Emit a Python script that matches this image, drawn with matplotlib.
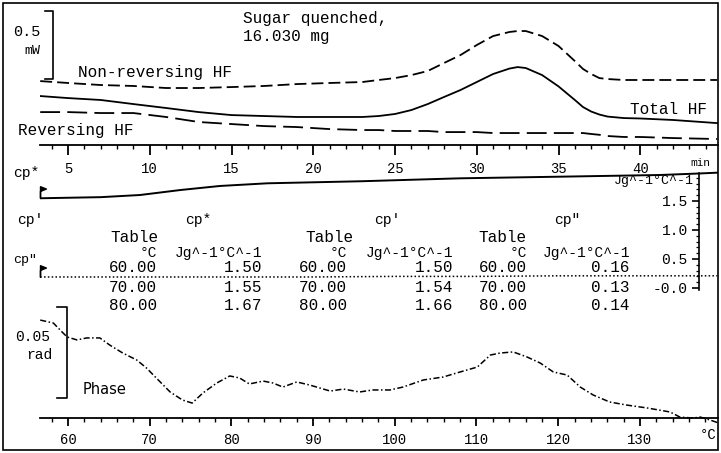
import numpy as np
import matplotlib
matplotlib.use('Agg')
import matplotlib.pyplot as plt
from matplotlib.ticker import MultipleLocator, FixedLocator
from matplotlib.patches import Rectangle

# heat flow signals (mW) against time (min)
hf_time = [3.3, 5, 7, 9, 11, 13, 15, 17, 19, 21, 23, 24, 25, 26, 27, 28, 29, 30,
           31, 32, 32.5, 33, 34, 35, 36, 36.5, 37, 37.5, 38, 39, 40, 42, 44.7]
nonrev_hf = [0.485, 0.471, 0.456, 0.449, 0.434, 0.434, 0.441, 0.449, 0.463, 0.471,
             0.478, 0.493, 0.507, 0.529, 0.559, 0.618, 0.676, 0.750, 0.816, 0.846,
             0.853, 0.853, 0.816, 0.743, 0.632, 0.574, 0.537, 0.507, 0.500, 0.493,
             0.493, 0.493, 0.493]
total_hf = [0.375, 0.360, 0.346, 0.316, 0.287, 0.257, 0.235, 0.228, 0.221, 0.221,
            0.221, 0.228, 0.243, 0.272, 0.316, 0.368, 0.419, 0.478, 0.537, 0.577,
            0.588, 0.581, 0.529, 0.446, 0.346, 0.294, 0.261, 0.239, 0.224, 0.213,
            0.210, 0.199, 0.176]
rev_hf = [0.257, 0.257, 0.250, 0.250, 0.221, 0.184, 0.169, 0.154, 0.147, 0.132,
          0.125, 0.125, 0.118, 0.118, 0.118, 0.110, 0.110, 0.110, 0.103, 0.103,
          0.103, 0.103, 0.103, 0.103, 0.103, 0.103, 0.096, 0.090, 0.081, 0.074,
          0.074, 0.066, 0.059]

# heat capacity (J/g/°C) against time (min)
cp_time = [3.3, 7.0, 9.4, 11.9, 14.3, 17.2, 22.9, 29.0, 35.1, 41.2, 43.6, 44.7]
cp_star = [1.547, 1.566, 1.603, 1.690, 1.759, 1.805, 1.840, 1.891, 1.919, 1.948, 1.974, 1.988]
cpdd_time = [3.3, 5, 10, 15, 20, 25, 30, 35, 40, 44.7]
cp_dprime = [0.19, 0.19, 0.19, 0.19, 0.19, 0.20, 0.20, 0.21, 0.21, 0.21]

# phase (rad) against temperature (°C)
phase_temp = [56.6, 58.2, 59.4, 59.9, 61.1, 62.3, 63.9, 65.1, 66.7, 68.4, 69.6, 70.8,
              72.5, 74.0, 75.2, 76.5, 78.2, 79.8, 81.0, 82.2, 83.9, 85.1, 86.3, 88.0,
              89.6, 92.1, 93.7, 95.7, 97.3, 99.4, 101.0, 103.5, 105.9, 108.0, 110.1,
              111.7, 112.9, 114.5, 116.2, 117.8, 119.4, 121.1, 122.7, 124.3, 126.3,
              128.4, 130.9, 133.7, 134.9, 136.5, 137.4, 138.6, 139.6]
phase_rad = [0.0538, 0.0522, 0.0467, 0.0445, 0.0429, 0.0440, 0.0440, 0.0401, 0.0357,
             0.0319, 0.0275, 0.0220, 0.0143, 0.0099, 0.0082, 0.0137, 0.0192, 0.0231,
             0.0220, 0.0187, 0.0203, 0.0192, 0.0170, 0.0198, 0.0181, 0.0148, 0.0159,
             0.0143, 0.0154, 0.0154, 0.0170, 0.0209, 0.0225, 0.0253, 0.0280, 0.0346,
             0.0357, 0.0363, 0.0335, 0.0302, 0.0253, 0.0236, 0.0170, 0.0126, 0.0088,
             0.0071, 0.0055, 0.0033, 0.0005, 0.0000, 0.0005, -0.0011, -0.0027]

# table printed on the chart
table_temps = [60.00, 70.00, 80.00]
table_cp_star = [1.50, 1.55, 1.67]
table_cp_prime = [1.50, 1.54, 1.66]
table_cp_dprime = [0.16, 0.13, 0.14]

hf_scale = 0.5       # mW
phase_scale = 0.05   # rad

W, H = 721, 453
plt.rcParams['font.family'] = ['Liberation Mono', 'DejaVu Sans Mono']
plt.rcParams['font.size'] = 11.5

fig = plt.figure(figsize=(W / 100, H / 100), dpi=100)


def box(x0, y0, x1, y1):
    # pixel box -> figure fraction rect
    return [x0 / W, 1 - y1 / H, (x1 - x0) / W, (y1 - y0) / H]


def put(x, y, s, **kw):
    kw.setdefault('va', 'center')
    kw.setdefault('ha', 'left')
    fig.text(x / W, 1 - y / H, s, **kw)


def bare(ax):
    ax.patch.set_visible(False)
    for s in ax.spines.values():
        s.set_visible(False)
    ax.set_yticks([])


t_lim = (3.287, 44.755)
T_lim = (56.573, 139.56)

# --- heat flow panel
ax_hf = fig.add_axes(box(40, 5, 718, 145))
bare(ax_hf)
ax_hf.set_xlim(*t_lim)
ax_hf.set_ylim(0.015, 0.015 + 140 / 136)
ax_hf.plot(hf_time, nonrev_hf, color='k', lw=1.3, ls=(0, (6.6, 2.8)))
ax_hf.plot(hf_time, total_hf, color='k', lw=1.3)
ax_hf.plot(hf_time, rev_hf, color='k', lw=1.3, ls=(0, (11, 4)))
bar_x, bar_tick = 4.08, 3.59
ax_hf.plot([bar_tick, bar_x, bar_x, bar_tick],
           [0.5 + hf_scale, 0.5 + hf_scale, 0.5, 0.5], color='k', lw=1.2)
ax_hf.spines['bottom'].set_visible(True)
ax_hf.spines['bottom'].set_linewidth(1.3)
ax_hf.xaxis.set_major_locator(MultipleLocator(5))
ax_hf.xaxis.set_minor_locator(MultipleLocator(1))
ax_hf.tick_params(axis='x', which='major', direction='out', length=7, width=1.3,
                  labelsize=10, pad=5)
ax_hf.tick_params(axis='x', which='minor', direction='out', length=3, width=1.0)
ax_hf.set_xticks(range(5, 45, 5))

# --- heat capacity panel
ax_cp = fig.add_axes(box(40, 150, 718, 300))
bare(ax_cp)
ax_cp.set_xlim(*t_lim)
ax_cp.set_ylim(-0.2069, 2.379)
ax_cp.set_xticks([])
ax_cp.plot(cp_time, cp_star, color='k', lw=1.4)
ax_cp.plot(cpdd_time, cp_dprime, color='k', lw=1.1, ls=(0, (1, 1.5)))
flag = [(0, 0), (0, 1), (0.5, 0.8), (0, 0.6), (0, 0)]
ax_cp.plot(cp_time[0], cp_star[0], marker=flag, ms=17, color='k', mfc='k', clip_on=False)
ax_cp.plot(cpdd_time[0], cp_dprime[0], marker=flag, ms=17, color='k', mfc='k', clip_on=False)
ax_cp.spines['left'].set_visible(True)
ax_cp.spines['left'].set_position(('data', 43.59))
ax_cp.spines['left'].set_bounds(-0.03, 1.99)
ax_cp.spines['left'].set_linewidth(1.2)
ax_cp.set_yticks([0.0, 0.5, 1.0, 1.5])
ax_cp.set_yticklabels(['-0.0', '0.5', '1.0', '1.5'])
ax_cp.yaxis.set_minor_locator(FixedLocator(np.arange(0.1, 2.0, 0.1)))
ax_cp.tick_params(axis='y', which='major', direction='out', length=5, width=1.2,
                  labelsize=10.5, pad=3)
ax_cp.tick_params(axis='y', which='minor', direction='out', length=2.5, width=0.9)

# --- phase panel
ax_ph = fig.add_axes(box(40, 300, 718, 418))
bare(ax_ph)
ax_ph.set_xlim(*T_lim)
ax_ph.set_ylim(0, 118 * phase_scale / 91)
ax_ph.plot(phase_temp, phase_rad, color='k', lw=1.1, ls=(0, (4, 1.6, 1, 1.6)), clip_on=False)
pb_x, pb_tick, pb_lo = 59.88, 58.65, 0.011
ax_ph.plot([pb_tick, pb_x, pb_x, pb_tick],
           [pb_lo + phase_scale, pb_lo + phase_scale, pb_lo, pb_lo], color='k', lw=1.2)
ax_ph.spines['bottom'].set_visible(True)
ax_ph.spines['bottom'].set_linewidth(1.3)
ax_ph.set_xticks(range(60, 140, 10))
ax_ph.xaxis.set_minor_locator(MultipleLocator(2))
ax_ph.tick_params(axis='x', which='major', direction='out', length=6, width=1.3,
                  labelsize=10, pad=5)
ax_ph.tick_params(axis='x', which='minor', direction='out', length=3, width=1.0)

# --- texts
put(243, 18, 'Sugar quenched,')
put(243, 37, '16.030 mg')
put(40, 32, '0.5', ha='right', fontsize=11)
put(40, 51, 'mW', ha='right', fontsize=9.5)
put(78, 72, 'Non-reversing HF')
put(630, 109, 'Total HF')
put(18, 131, 'Reversing HF')

put(13, 173, 'cp*', fontsize=10.5)
put(17, 220, "cp'", fontsize=10.5)
put(13, 260, 'cp"', fontsize=9.5)
put(694, 181, 'Jg^-1°C^-1', ha='right', fontsize=9.5)
put(690, 163, 'min', fontsize=8)

heads = ['cp*', "cp'", 'cp"']
head_x = [198, 387, 567]
table_x = [110, 305, 478]
temp_right = [157, 347, 527]
val_right = [262, 453, 630]
cols = [table_cp_star, table_cp_prime, table_cp_dprime]
row_y = [268, 287, 305]
for i in range(3):
    put(head_x[i], 220, heads[i], ha='center', fontsize=10.5)
    put(table_x[i], 237, 'Table')
    put(temp_right[i], 253, '°C', ha='right', fontsize=10.5)
    put(val_right[i], 253, 'Jg^-1°C^-1', ha='right', fontsize=10.5)
    for j in range(3):
        put(temp_right[i], row_y[j], f'{table_temps[j]:.2f}', ha='right')
        put(val_right[i], row_y[j], f'{cols[i][j]:.2f}', ha='right')

put(50, 337, '0.05', ha='right', fontsize=10.5)
put(52, 355, 'rad', ha='right', fontsize=10.5)
put(83, 390, 'Phase', fontsize=10.5, family='DejaVu Sans')
put(700, 435, '°C', fontsize=10)

fig.add_artist(Rectangle((3 / W, 1 - 450 / H), 715 / W, 447 / H, transform=fig.transFigure,
                         fill=False, lw=1.2, ec='k'))

fig.savefig('out.png', dpi=100)
